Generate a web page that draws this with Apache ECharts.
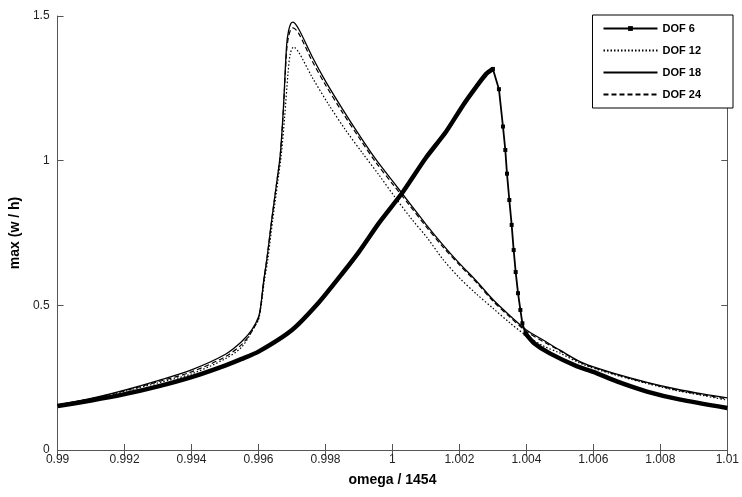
<!DOCTYPE html>
<html>
<head>
<meta charset="utf-8">
<script src="https://cdn.jsdelivr.net/npm/echarts@6/dist/echarts.min.js"></script>
<style>
  html, body { margin: 0; padding: 0; background: #fff; }
  #chart { width: 742px; height: 497px; }
</style>
</head>
<body>
<div id="chart"></div>
<script>
// [omega / 1454, max (w / h)]
const dof6Rise = [
  [0.99, 0.152], [0.991, 0.171], [0.992, 0.193], [0.993, 0.22], [0.994, 0.252],
  [0.995, 0.292], [0.9955, 0.315], [0.996, 0.34], [0.997, 0.415], [0.9978, 0.51],
  [0.9985, 0.61], [0.999, 0.685], [0.9996, 0.785], [1.0003, 0.89], [1.001, 1.01],
  [1.0016, 1.1], [1.0021, 1.19], [1.0025, 1.255], [1.0028, 1.3], [1.003, 1.317]
]
const dof6Drop = [
  [1.003, 1.317], [1.00318, 1.247], [1.0033, 1.118], [1.00337, 1.037], [1.00342, 0.955],
  [1.00349, 0.864], [1.00356, 0.778], [1.00362, 0.691], [1.00368, 0.615], [1.00375, 0.542],
  [1.00382, 0.484], [1.00388, 0.438], [1.00397, 0.403]
]
const dof6Tail = [
  [1.00397, 0.403], [1.00422, 0.37], [1.0047, 0.334], [1.0055, 0.29], [1.006, 0.27],
  [1.0067, 0.237], [1.0076, 0.202], [1.0086, 0.174], [1.01, 0.145]
]
const dof12 = [
  [0.99, 0.154], [0.991, 0.176], [0.992, 0.203], [0.993, 0.232], [0.994, 0.263],
  [0.995, 0.315], [0.9955, 0.356], [0.9959, 0.43], [0.996, 0.45], [0.99608, 0.5],
  [0.99617, 0.58], [0.99628, 0.66], [0.99643, 0.8], [0.99658, 0.93], [0.99668, 1.02],
  [0.99678, 1.15], [0.99688, 1.3], [0.99695, 1.37], [0.99705, 1.393], [0.9972, 1.375],
  [0.9976, 1.289], [0.9981, 1.193], [0.9986, 1.106], [0.9991, 1.027], [0.9996, 0.95],
  [1.0001, 0.87], [1.00056, 0.8], [1.00106, 0.73], [1.0015, 0.66], [1.002, 0.595],
  [1.0025, 0.54], [1.003, 0.49], [1.0035, 0.44], [1.004, 0.395], [1.0045, 0.36],
  [1.005, 0.335], [1.0057, 0.295], [1.0067, 0.258], [1.0076, 0.23], [1.0085, 0.205],
  [1.0093, 0.188], [1.01, 0.172]
]
const dof18 = [
  [0.99, 0.156], [0.991, 0.178], [0.992, 0.207], [0.993, 0.24], [0.994, 0.277],
  [0.995, 0.33], [0.9955, 0.375], [0.9958, 0.415], [0.996, 0.46], [0.99607, 0.5],
  [0.99615, 0.58], [0.99625, 0.66], [0.9964, 0.8], [0.99655, 0.93], [0.99665, 1.02],
  [0.99674, 1.175], [0.99684, 1.4], [0.9969, 1.45], [0.99697, 1.475], [0.99703, 1.479],
  [0.9972, 1.455], [0.9976, 1.36], [0.998, 1.275], [0.9985, 1.18], [0.999, 1.09],
  [0.9995, 1.005], [1.0, 0.93], [1.0005, 0.855], [1.001, 0.78], [1.0015, 0.71],
  [1.002, 0.645], [1.0025, 0.585], [1.003, 0.52], [1.0035, 0.465], [1.004, 0.415],
  [1.0045, 0.38], [1.005, 0.345], [1.0057, 0.3], [1.0067, 0.262], [1.0076, 0.234],
  [1.0085, 0.21], [1.0093, 0.193], [1.01, 0.18]
]
const dof24 = [
  [0.99, 0.155], [0.991, 0.177], [0.992, 0.205], [0.993, 0.236], [0.994, 0.27],
  [0.995, 0.322], [0.9955, 0.365], [0.9958, 0.41], [0.996, 0.455], [0.99607, 0.5],
  [0.99615, 0.58], [0.99625, 0.66], [0.9964, 0.8], [0.99655, 0.93], [0.99665, 1.02],
  [0.99674, 1.17], [0.99684, 1.38], [0.9969, 1.43], [0.99697, 1.455], [0.99703, 1.459],
  [0.9972, 1.44], [0.9976, 1.345], [0.998, 1.262], [0.9985, 1.168], [0.999, 1.08],
  [0.9995, 0.995], [1.0, 0.92], [1.0005, 0.847], [1.001, 0.773], [1.0015, 0.703],
  [1.002, 0.64], [1.0025, 0.58], [1.003, 0.515], [1.0035, 0.46], [1.004, 0.41],
  [1.0045, 0.375], [1.005, 0.343], [1.0057, 0.298], [1.0067, 0.26], [1.0076, 0.232],
  [1.0085, 0.207], [1.0093, 0.19], [1.01, 0.177]
]
const seriesNames = ['DOF 6', 'DOF 12', 'DOF 18', 'DOF 24']

const font = 'Liberation Sans, Arial, sans-serif'
const axisColor = '#555'

const xAxisBase = {
  type: 'value', min: 0.99, max: 1.01, interval: 0.002,
  axisLine: { lineStyle: { color: axisColor, width: 1 } },
  axisTick: { inside: true, length: 6, lineStyle: { color: axisColor } },
  splitLine: { show: false }
}
const yAxisBase = {
  type: 'value', min: 0, max: 1.5, interval: 0.5,
  axisLine: { show: true, lineStyle: { color: axisColor, width: 1 } },
  axisTick: { show: true, inside: true, length: 6, lineStyle: { color: axisColor } },
  splitLine: { show: false }
}

const lineSeries = (name, data, lineStyle) => ({
  name, type: 'line', data, symbol: 'none', smooth: 0.3,
  lineStyle: Object.assign({ color: '#000', width: 1.1 }, lineStyle),
  itemStyle: { color: '#000' }, z: 3, animation: false
})

const option = {
  backgroundColor: '#fff',
  textStyle: { fontFamily: font },
  grid: { left: 55, right: 9, top: 16, bottom: 47 },
  legend: {
    data: seriesNames.map((name, i) => i === 0
      ? { name, itemStyle: { opacity: 1 } }
      : { name, itemStyle: { opacity: 0 } }),
    orient: 'vertical',
    right: 9, top: 15,
    itemWidth: 54, itemHeight: 6, itemGap: 11,
    padding: [8, 32, 8, 10],
    borderColor: '#000', borderWidth: 1, backgroundColor: '#fff',
    textStyle: { fontFamily: font, fontSize: 11, fontWeight: 'bold', color: '#000' }
  },
  xAxis: [
    Object.assign({}, xAxisBase, {
      position: 'bottom',
      name: 'omega / 1454', nameLocation: 'middle', nameGap: 23,
      nameTextStyle: { fontFamily: font, fontSize: 14, fontWeight: 'bold', color: '#000' },
      axisLabel: {
        fontFamily: font, fontSize: 12, color: '#222', margin: 4,
        formatter: v => String(+v.toFixed(3))
      }
    }),
    Object.assign({}, xAxisBase, { position: 'top', axisLabel: { show: false } })
  ],
  yAxis: [
    Object.assign({}, yAxisBase, {
      position: 'left',
      name: 'max (w / h)', nameLocation: 'middle', nameGap: 18,
      nameTextStyle: { fontFamily: font, fontSize: 14, fontWeight: 'bold', color: '#000' },
      axisLabel: {
        fontFamily: font, fontSize: 12, color: '#222', margin: 8,
        formatter: v => String(+v.toFixed(1))
      }
    }),
    Object.assign({}, yAxisBase, { position: 'right', axisLabel: { show: false } })
  ],
  series: [
    // steep drop: thin line with square markers (first, so the legend icon shows the marker)
    Object.assign(lineSeries('DOF 6', dof6Drop, { width: 1.8 }), {
      smooth: false, symbol: 'rect', symbolSize: 4, showSymbol: true
    }),
    // densely marked parts appear as a thick line
    Object.assign(lineSeries('DOF 6', dof6Rise, { width: 4.5 }), { smooth: 0.2 }),
    Object.assign(lineSeries('DOF 6', dof6Tail, { width: 4.5 }), { smooth: 0.2 }),
    lineSeries('DOF 12', dof12, { type: [1.5, 2], width: 1.2 }),
    lineSeries('DOF 18', dof18, { type: 'solid', width: 1.3 }),
    lineSeries('DOF 24', dof24, { type: [5, 3], width: 1.2 })
  ]
}

const chart = echarts.init(document.getElementById('chart'))
chart.setOption(option)
</script>
</body>
</html>
